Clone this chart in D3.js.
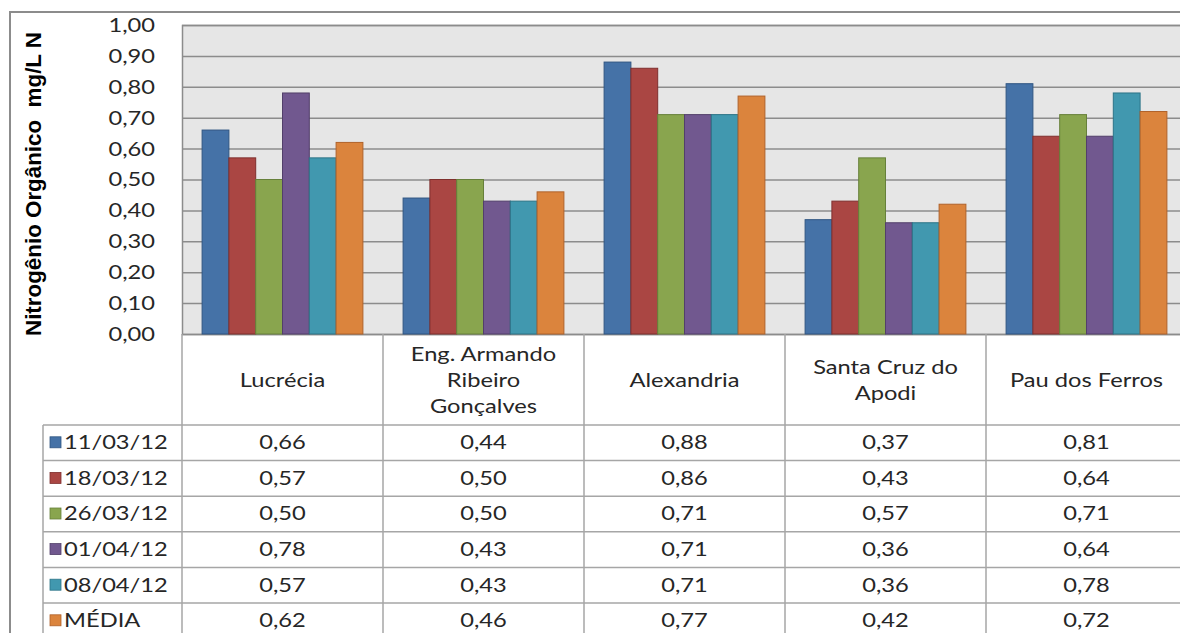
<!DOCTYPE html>
<html>
<head>
<meta charset="utf-8">
<script src="https://cdn.jsdelivr.net/npm/d3@7"></script>
<style>
  html, body { margin: 0; padding: 0; background: #fff; }
  svg { display: block; }
</style>
</head>
<body>
<svg id="chart" width="1180" height="633"></svg>
<script>
const categories = ["Lucrécia", "Eng. Armando Ribeiro Gonçalves", "Alexandria", "Santa Cruz do Apodi", "Pau dos Ferros"];
const categoryLines = [["Lucrécia"], ["Eng. Armando", "Ribeiro", "Gonçalves"], ["Alexandria"], ["Santa Cruz do", "Apodi"], ["Pau dos Ferros"]];
const seriesNames = ["11/03/12", "18/03/12", "26/03/12", "01/04/12", "08/04/12", "MÉDIA"];
const s1 = [0.66, 0.44, 0.88, 0.37, 0.81];
const s2 = [0.57, 0.50, 0.86, 0.43, 0.64];
const s3 = [0.50, 0.50, 0.71, 0.57, 0.71];
const s4 = [0.78, 0.43, 0.71, 0.36, 0.64];
const s5 = [0.57, 0.43, 0.71, 0.36, 0.78];
const s6 = [0.62, 0.46, 0.77, 0.42, 0.72];
const seriesValues = [s1, s2, s3, s4, s5, s6];
const yTicks = [0, 0.1, 0.2, 0.3, 0.4, 0.5, 0.6, 0.7, 0.8, 0.9, 1.0];
const yTitle = "Nitrogênio Orgânico\u00a0\u00a0mg/L N";

const colors = ["#4572A7", "#AA4643", "#89A54E", "#71588F", "#4198AF", "#DB843D"];
const strokes = ["#2f5582", "#7f2f2d", "#66803a", "#523f6a", "#2c7487", "#b0622a"];

const svg = d3.select("#chart");
const plotL = 182, plotR = 1187, plotT = 25, plotB = 334;
const fmt = v => d3.format(".2f")(v).replace(".", ",");
const SX = 1.28, FS = 18.5;
const tFont = "Lato, 'Open Sans', sans-serif";
const txtColor = "#262626";

const x = d3.scaleBand().domain(categories).range([plotL, plotR]).paddingInner(0.2).paddingOuter(0.1);
const xs = d3.scaleBand().domain(seriesNames).range([0, x.bandwidth()]);
const y = d3.scaleLinear().domain([0, 1]).range([plotB, plotT]);

function label(px, py, str, anchor) {
  svg.append("text").attr("transform", `translate(${px},${py}) scale(${SX},1)`)
    .attr("dy", "0.35em").attr("text-anchor", anchor || "middle")
    .attr("font-family", tFont).attr("font-size", FS).attr("fill", txtColor).text(str);
}

// Outer frame
svg.append("path").attr("d", `M10,633 V12 H1180`).attr("fill", "none").attr("stroke", "#8c8c8c").attr("stroke-width", 2);

// Plot background
svg.append("rect").attr("x", plotL).attr("y", plotT).attr("width", plotR - plotL).attr("height", plotB - plotT).attr("fill", "#e6e6e6");

// Gridlines via axis
const pad = 27;
const yAxis = d3.axisLeft(y).tickValues(yTicks).tickSize(-(plotR - plotL)).tickFormat(fmt).tickPadding(pad);
const ga = svg.append("g").attr("transform", `translate(${plotL},0)`).call(yAxis);
ga.select(".domain").attr("stroke", "#8c8c8c").attr("stroke-width", 1.5);
ga.selectAll(".tick line").attr("stroke", "#8c8c8c").attr("stroke-width", 1.5);
ga.selectAll(".tick text").attr("font-family", tFont).attr("font-size", FS).attr("fill", txtColor)
  .attr("dy", "0.35em").attr("x", -pad / SX).attr("transform", `scale(${SX},1)`);

// Bars
const groups = svg.append("g").selectAll("g").data(categories).join("g").attr("transform", d => `translate(${x(d)},0)`);
groups.selectAll("rect").data((d, i) => seriesNames.map((s, j) => ({ s, j, v: seriesValues[j][i] }))).join("rect")
  .attr("x", d => xs(d.s)).attr("width", xs.bandwidth())
  .attr("y", d => y(d.v)).attr("height", d => y(0) - y(d.v))
  .attr("fill", d => colors[d.j]).attr("stroke", d => strokes[d.j]).attr("stroke-width", 1);

// Y title
svg.append("text").attr("transform", `translate(41,184) rotate(-90)`).attr("text-anchor", "middle")
  .attr("font-family", "'Liberation Sans', Arial, sans-serif").attr("font-weight", "bold").attr("font-size", 22.5)
  .attr("textLength", 304).attr("lengthAdjust", "spacingAndGlyphs").attr("fill", "#000").text(yTitle);

// Data table
const tbl = svg.append("g");
const gridC = "#a6a6a6";
const headB = 425, rowH = 35.6, legL = 43;
const rowY = i => headB + i * rowH;
const edges = [];
for (let i = 0; i <= categories.length; i++) edges.push(plotL + i * x.step());
tbl.selectAll("line.v").data(edges).join("line").attr("class", "v")
  .attr("x1", d => d).attr("x2", d => d).attr("y1", plotB).attr("y2", 633).attr("stroke", gridC).attr("stroke-width", 1.5);
tbl.append("line").attr("x1", legL).attr("x2", legL).attr("y1", headB).attr("y2", 633).attr("stroke", gridC).attr("stroke-width", 1.5);
tbl.selectAll("line.h").data(seriesNames).join("line").attr("class", "h")
  .attr("x1", legL).attr("x2", 1180).attr("y1", (d, i) => rowY(i)).attr("y2", (d, i) => rowY(i)).attr("stroke", gridC).attr("stroke-width", 1.5);

// Header labels
categoryLines.forEach((lines, i) => {
  const cx = x(categories[i]) + x.bandwidth() / 2;
  lines.forEach((ln, k) => label(cx, 381 + (k - (lines.length - 1) / 2) * 26, ln));
});
// Legend rows + values
seriesNames.forEach((s, j) => {
  const cy = rowY(j) + rowH / 2;
  svg.append("rect").attr("x", 50).attr("y", cy - 6).attr("width", 11).attr("height", 11).attr("fill", colors[j]).attr("stroke", strokes[j]).attr("stroke-width", 0.8);
  label(64, cy, s, "start");
  categories.forEach((c, i) => label(x(c) + x.bandwidth() / 2, cy, fmt(seriesValues[j][i])));
});
</script>
</body>
</html>
